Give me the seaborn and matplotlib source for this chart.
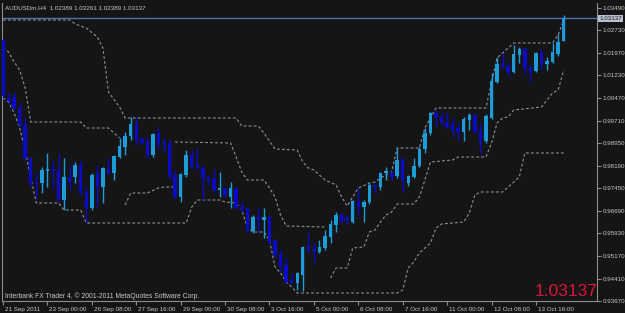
import numpy as np
import pandas as pd
import matplotlib
matplotlib.use("Agg")
import matplotlib.pyplot as plt
from matplotlib.transforms import ScaledTranslation
import seaborn as sns

# ---------------- data ----------------
opens = [1.02408, 1.00465, 1.00499, 1.00130, 0.99560, 0.98455, 0.97651, 0.97617, 0.98019, 0.98087,
         0.98053, 0.97048, 0.97819, 0.97819, 0.98221, 0.97316, 0.96780, 0.97952, 0.97483, 0.98087,
         0.97952, 0.98489, 0.98824, 0.99192, 0.99594, 0.99092, 0.98991, 0.98556, 0.99293, 0.98958,
         0.98958, 0.97885, 0.97149, 0.97885, 0.98556, 0.98221, 0.98120, 0.97819, 0.97752, 0.97383,
         0.97450, 0.97149, 0.97450, 0.96813, 0.96780, 0.96010, 0.96479, 0.96378, 0.96479, 0.95708,
         0.95239, 0.94871, 0.94368, 0.94267, 0.94535, 0.95474, 0.95407, 0.95306, 0.95440, 0.95809,
         0.96211, 0.96579, 0.96445, 0.96311, 0.97015, 0.96813, 0.96981, 0.97550, 0.97483, 0.97952,
         0.97986, 0.97852, 0.98422, 0.97617, 0.97819, 0.98187, 0.98757, 0.99293, 0.99963, 0.99829,
         0.99627, 0.99594, 0.99460, 0.99326, 0.99728, 0.99896, 0.99360, 0.99025, 0.99795, 1.01001,
         1.01638, 1.01537, 1.01336, 1.01906, 1.02107, 1.01504, 1.01370, 1.01973, 1.01604, 1.01671,
         1.01939, 1.02389]
highs = [1.02475, 1.00666, 1.00666, 1.00331, 0.99829, 0.98488, 0.97952, 0.98154, 0.98623, 0.98388,
         0.98623, 0.98455, 0.98221, 0.98321, 0.98388, 0.97483, 0.97952, 0.98221, 0.98154, 0.98489,
         0.98556, 0.99125, 0.99326, 0.99829, 0.99829, 0.99125, 0.99159, 0.99293, 0.99493, 0.99159,
         0.99058, 0.98053, 0.97952, 0.98723, 0.98723, 0.98790, 0.98221, 0.97852, 0.98087, 0.97986,
         0.97483, 0.97651, 0.97483, 0.96981, 0.96813, 0.96545, 0.96780, 0.96780, 0.96512, 0.95742,
         0.95407, 0.95105, 0.94603, 0.94636, 0.95507, 0.95976, 0.95641, 0.95708, 0.96043, 0.96378,
         0.96646, 0.96613, 0.96545, 0.97048, 0.97450, 0.97048, 0.97617, 0.97584, 0.97986, 0.98154,
         0.98053, 0.98790, 0.98455, 0.97885, 0.98455, 0.98824, 0.99460, 0.99996, 1.00063, 0.99996,
         0.99996, 0.99829, 0.99627, 0.99829, 0.99963, 0.99929, 0.99627, 0.99930, 1.01303, 1.01839,
         1.01973, 1.01671, 1.02240, 1.02174, 1.02140, 1.01571, 1.02006, 1.02107, 1.01839, 1.02308,
         1.02609, 1.03261]
lows = [1.00465, 1.00230, 1.00063, 0.99493, 0.98388, 0.97483, 0.97115, 0.97282, 0.97483, 0.97450,
        0.96981, 0.96713, 0.97383, 0.97617, 0.97249, 0.96311, 0.96713, 0.96813, 0.96947, 0.97919,
        0.97718, 0.98455, 0.98556, 0.99058, 0.98891, 0.98924, 0.98455, 0.98489, 0.98790, 0.98656,
        0.97785, 0.97115, 0.96981, 0.97819, 0.98120, 0.98053, 0.97048, 0.97550, 0.97316, 0.97149,
        0.97149, 0.96780, 0.96713, 0.96646, 0.95976, 0.95943, 0.95976, 0.95775, 0.95574, 0.95139,
        0.94636, 0.94267, 0.94234, 0.94033, 0.93999, 0.95306, 0.94937, 0.95273, 0.95373, 0.95608,
        0.95976, 0.96277, 0.96244, 0.96290, 0.96545, 0.96311, 0.96914, 0.97282, 0.97383, 0.97718,
        0.97718, 0.97785, 0.97316, 0.97517, 0.97785, 0.98154, 0.98623, 0.99226, 0.99493, 0.99560,
        0.99460, 0.99192, 0.99058, 0.99025, 0.99393, 0.99293, 0.98623, 0.98958, 0.99761, 1.00968,
        1.01470, 1.01202, 1.01303, 1.01638, 1.01236, 1.00968, 1.01336, 1.01403, 1.01403, 1.01638,
        1.01872, 1.02389]
closes = [1.00532, 1.00364, 1.00130, 0.99560, 0.98455, 0.97617, 0.97584, 0.98053, 0.98087, 0.98019,
          0.97048, 0.97819, 0.97651, 0.98221, 0.97282, 0.96780, 0.97885, 0.97483, 0.98120, 0.97952,
          0.98522, 0.98857, 0.99192, 0.99594, 0.99058, 0.98958, 0.98556, 0.99260, 0.98958, 0.98891,
          0.97819, 0.97149, 0.97919, 0.98556, 0.98154, 0.98120, 0.97785, 0.97718, 0.97383, 0.97450,
          0.97215, 0.97450, 0.96780, 0.96713, 0.96043, 0.96479, 0.96378, 0.96479, 0.95608, 0.95206,
          0.94803, 0.94301, 0.94267, 0.94603, 0.95474, 0.95373, 0.95340, 0.95474, 0.95842, 0.96244,
          0.96545, 0.96311, 0.96378, 0.97015, 0.96813, 0.96981, 0.97550, 0.97483, 0.97952, 0.98019,
          0.97819, 0.98388, 0.97718, 0.97852, 0.98187, 0.98757, 0.99293, 0.99963, 0.99829, 0.99627,
          0.99493, 0.99393, 0.99326, 0.99761, 0.99896, 0.99326, 0.98991, 0.99862, 1.01035, 1.01604,
          1.01504, 1.01336, 1.01939, 1.02107, 1.01470, 1.01336, 1.01973, 1.01604, 1.01705, 1.02006,
          1.02341, 1.03137]

# dashed channel lines: bar index and price
line1_idx = [0, 12, 13, 15, 17, 18, 19, 21, 22, 42, 43, 46, 47, 49, 53, 54, 55, 56, 58, 60, 61, 62,
             64, 66, 67, 68, 70, 71, 75, 76, 78, 87, 88, 89, 90, 92, 99, 100, 101]
line1_val = [1.03078, 1.03078, 1.02944, 1.02810, 1.02508, 1.02140, 1.00666, 1.00163, 0.99795,
             0.99795, 0.99527, 0.99527, 0.99293, 0.98757, 0.98723, 0.98321, 0.98120, 0.98053, 0.97718,
             0.97550, 0.97149, 0.96847, 0.97450, 0.97617, 0.97651, 0.97785, 0.97986, 0.98790, 0.98790,
             0.99460, 1.00130, 1.00130, 1.01001, 1.01805, 1.01973, 1.02308, 1.02308, 1.02576, 1.03078]
line2_idx = [0, 1, 2, 3, 4, 5, 14, 15, 19, 20, 21]
line2_val = [1.02140, 1.02006, 1.01671, 1.01403, 1.00800, 0.99661, 0.99661, 0.99460, 0.99460,
             0.99293, 0.99125]
line3_idx = [22, 23, 26, 28, 29, 31]
line3_val = [0.96881, 0.97282, 0.97282, 0.97450, 0.97483, 0.97483]
line4_idx = [31, 41, 42, 43, 44, 47, 48, 49, 50, 51, 58]
line4_val = [0.98991, 0.98958, 0.98489, 0.97986, 0.97718, 0.97718, 0.97450, 0.97149, 0.96545,
             0.96177, 0.96143]
line5_idx = [59, 60, 62, 63, 65, 66, 67, 68, 69, 70, 71, 74, 75, 76, 77, 81, 82, 87, 88, 89, 90,
             91, 92, 97, 98, 99, 100, 101]
line5_val = [0.94435, 0.94770, 0.94770, 0.95440, 0.95474, 0.95976, 0.96043, 0.96311, 0.96545,
             0.96646, 0.96914, 0.96914, 0.97149, 0.97718, 0.98321, 0.98388, 0.98489, 0.98489,
             0.98958, 0.99627, 0.99795, 0.99829, 1.00063, 1.00163, 1.00398, 1.00632, 1.00733, 1.01403]
line6_idx = [0, 1, 2, 3, 4, 5, 6, 10, 11, 14, 15, 33, 34, 35, 39, 40, 42, 43, 44, 45, 47, 48, 49,
             50, 51, 52, 53, 71, 72, 73, 74, 75, 77, 78, 79, 83, 84, 85, 86, 90, 91, 92, 93, 94, 101]
line6_val = [1.00465, 1.00331, 0.99963, 0.99460, 0.98723, 0.97785, 0.96948, 0.96948, 0.96713,
             0.96713, 0.96277, 0.96277, 0.96813, 0.97048, 0.97048, 0.96981, 0.96948, 0.96713,
             0.96143, 0.95976, 0.95976, 0.95708, 0.94803, 0.94603, 0.94301, 0.94133, 0.93933,
             0.93933, 0.94033, 0.94770, 0.94971, 0.95273, 0.95608, 0.96110, 0.96244, 0.96311,
             0.96612, 0.97215, 0.97316, 0.97316, 0.97483, 0.97651, 0.97819, 0.98623, 0.98623]

time_labels = ["21 Sep 2011", "23 Sep 00:00", "26 Sep 08:00", "27 Sep 16:00", "29 Sep 00:00",
               "30 Sep 08:00", "3 Oct 16:00", "5 Oct 00:00", "6 Oct 08:00", "7 Oct 16:00",
               "11 Oct 00:00", "12 Oct 08:00", "13 Oct 16:00"]
label_step = 8
price_ticks = [1.03490, 1.02730, 1.01970, 1.01230, 1.00470, 0.99710, 0.98950, 0.98190,
               0.97450, 0.96690, 0.95930, 0.95170, 0.94410, 0.93670]
last_price = 1.03137
header = "AUDUSDm,H4  1.02389 1.03261 1.02389 1.03137"
footer = "Interbank FX Trader 4, \u00a9 2001-2011 MetaQuotes Software Corp."

# ---------------- style ----------------
BG = "#151515"
GRID_GRAY = "#8c8c8c"
TXT = "#c8c8c8"
BULL = "#1c9cd8"
BEAR = "#0a0ac8"
CHAN = "#8a929c"
SMALL = 4.5

sns.set_style("dark", {"axes.facecolor": BG, "figure.facecolor": BG})
plt.rcParams["font.family"] = ["Liberation Sans", "DejaVu Sans"]

fig = plt.figure(figsize=(6.25, 3.13), dpi=100, facecolor=BG)
ax = fig.add_axes([2 / 625, 12 / 313, 595 / 625, 298 / 313])
ax.set_facecolor(BG)

df = pd.DataFrame({"o": opens, "h": highs, "l": lows, "c": closes})
df["x"] = np.arange(len(df))
df["bull"] = df["c"] >= df["o"]
colors = np.where(df["bull"], BULL, BEAR)

# dashed channel lines
for li, lv in [(line1_idx, line1_val), (line2_idx, line2_val), (line3_idx, line3_val),
               (line4_idx, line4_val), (line5_idx, line5_val), (line6_idx, line6_val)]:
    sns.lineplot(x=li, y=lv, ax=ax, color=CHAN, linewidth=0.8, linestyle=(0, (2.5, 2.0)),
                 sort=False, estimator=None, legend=False, zorder=2)

# bid line
ax.axhline(last_price, color="#4f72b8", linewidth=1.0, zorder=1)

# candles
ax.vlines(df["x"], df["l"], df["h"], colors=colors, linewidth=1.0, zorder=3)
body = (df["c"] - df["o"]).abs().clip(lower=0.00025)
ax.bar(df["x"], body, bottom=df[["o", "c"]].min(axis=1), width=0.62, color=colors,
       linewidth=0, zorder=4)

ax.set_xlim(-0.18, 107.0)
ax.set_ylim(0.93664, 1.03648)
ax.set_xlabel("")
ax.set_ylabel("")
ax.grid(False)

for s in ["left", "right", "bottom"]:
    ax.spines[s].set_visible(True)
    ax.spines[s].set_color(GRID_GRAY)
    ax.spines[s].set_linewidth(0.8)
ax.spines["top"].set_visible(False)

ax.yaxis.tick_right()
ax.set_yticks(price_ticks)
ax.set_yticklabels([f"{p:.5f}" for p in price_ticks])
ax.set_xticks(np.arange(len(time_labels)) * label_step)
ax.set_xticklabels(time_labels, ha="left")
ax.tick_params(axis="both", direction="out", length=3, width=0.8, color=GRID_GRAY,
               labelcolor=TXT, labelsize=SMALL, pad=1.0)
ax.tick_params(axis="y", left=False, right=True)
ax.tick_params(axis="x", bottom=True)
off = ScaledTranslation(2 / 100, 0, fig.dpi_scale_trans)
for lbl in ax.get_xticklabels():
    lbl.set_transform(lbl.get_transform() + off)

# current price label box on the scale
ax.text(1.004, last_price, f"{last_price:.5f}", transform=ax.get_yaxis_transform(),
        ha="left", va="center", fontsize=SMALL, color="#1a1a1a",
        bbox=dict(boxstyle="square,pad=0.2", facecolor="#b8c0d0", edgecolor="none"),
        clip_on=False, zorder=6)

fig.text(5 / 625, 1 - 8 / 313, header, ha="left", va="center", fontsize=SMALL, color=TXT)
fig.text(5 / 625, 1 - 296 / 313, footer, ha="left", va="center", fontsize=4.9, color=TXT)
fig.text(597 / 625, 1 - 291 / 313, f"{last_price:.5f}", ha="right", va="center",
         fontsize=12.5, color="#dc143c")

fig.savefig("out.png", dpi=100, facecolor=BG)
